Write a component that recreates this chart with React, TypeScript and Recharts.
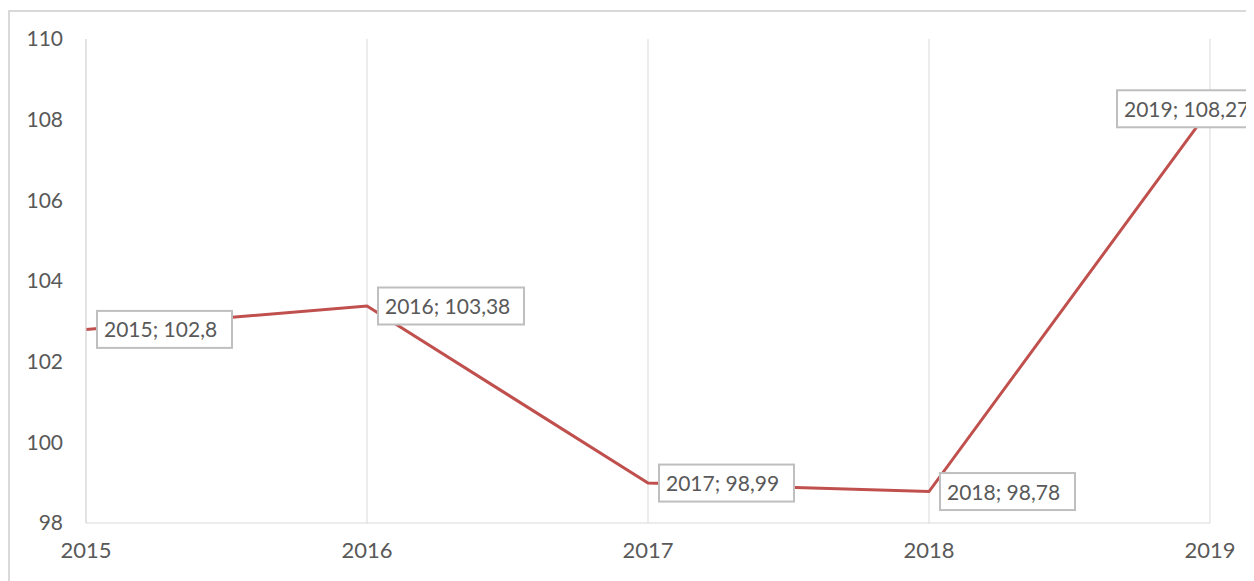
import { LineChart, Line, XAxis, YAxis, CartesianGrid, LabelList } from 'recharts';

const years = ['2015', '2016', '2017', '2018', '2019'];
const values = [102.8, 103.38, 98.99, 98.78, 108.27];
const yTicks = [98, 100, 102, 104, 106, 108, 110];

const chartData = years.map((y, i) => ({ year: y, value: values[i] }));

const FONT = 'Lato, "Liberation Sans", sans-serif';
const TEXT = '#595959';

function PointLabel(props: any) {
  const { x, y, index } = props;
  const d = chartData[index];
  const text = `${d.year}; ${String(d.value).replace('.', ',')}`;
  const w = text.length * 11 + 14;
  const h = 37;
  const last = index === chartData.length - 1;
  const left = last ? x - 93 : x + 11;
  return (
    <g>
      <rect x={left} y={y - h / 2} width={w} height={h} fill="#fff" stroke="#bfbfbf" strokeWidth={2} />
      <text x={left + 7} y={y + 8} fill={TEXT} fontSize={21} fontFamily={FONT}>
        {text}
      </text>
    </g>
  );
}

export default function App() {
  return (
    <div style={{ width: 1246, height: 573, overflow: 'hidden' }}>
      <div style={{ marginTop: 2, width: 1300, height: 600, border: '2px solid #d9d9d9' }}>
        <LineChart width={1300} height={600} data={chartData} margin={{ top: 27, right: 100, bottom: 49, left: 20 }}>
          <CartesianGrid vertical horizontal={false} stroke="#d9d9d9" />
          <XAxis
            dataKey="year"
            stroke="#d9d9d9"
            tickLine={false}
            tickSize={0}
            tickMargin={19}
            height={40}
            tick={{ fill: TEXT, fontSize: 22, fontFamily: FONT }}
          />
          <YAxis
            domain={[98, 110]}
            ticks={yTicks}
            width={56}
            stroke="#d9d9d9"
            tickLine={false}
            tickSize={0}
            tickMargin={23}
            tick={{ fill: TEXT, fontSize: 21, fontFamily: FONT }}
          />
          <Line
            type="linear"
            dataKey="value"
            stroke="#C0504D"
            strokeWidth={3}
            dot={false}
            isAnimationActive={false}
          >
            <LabelList dataKey="value" content={<PointLabel />} />
          </Line>
        </LineChart>
      </div>
    </div>
  );
}
